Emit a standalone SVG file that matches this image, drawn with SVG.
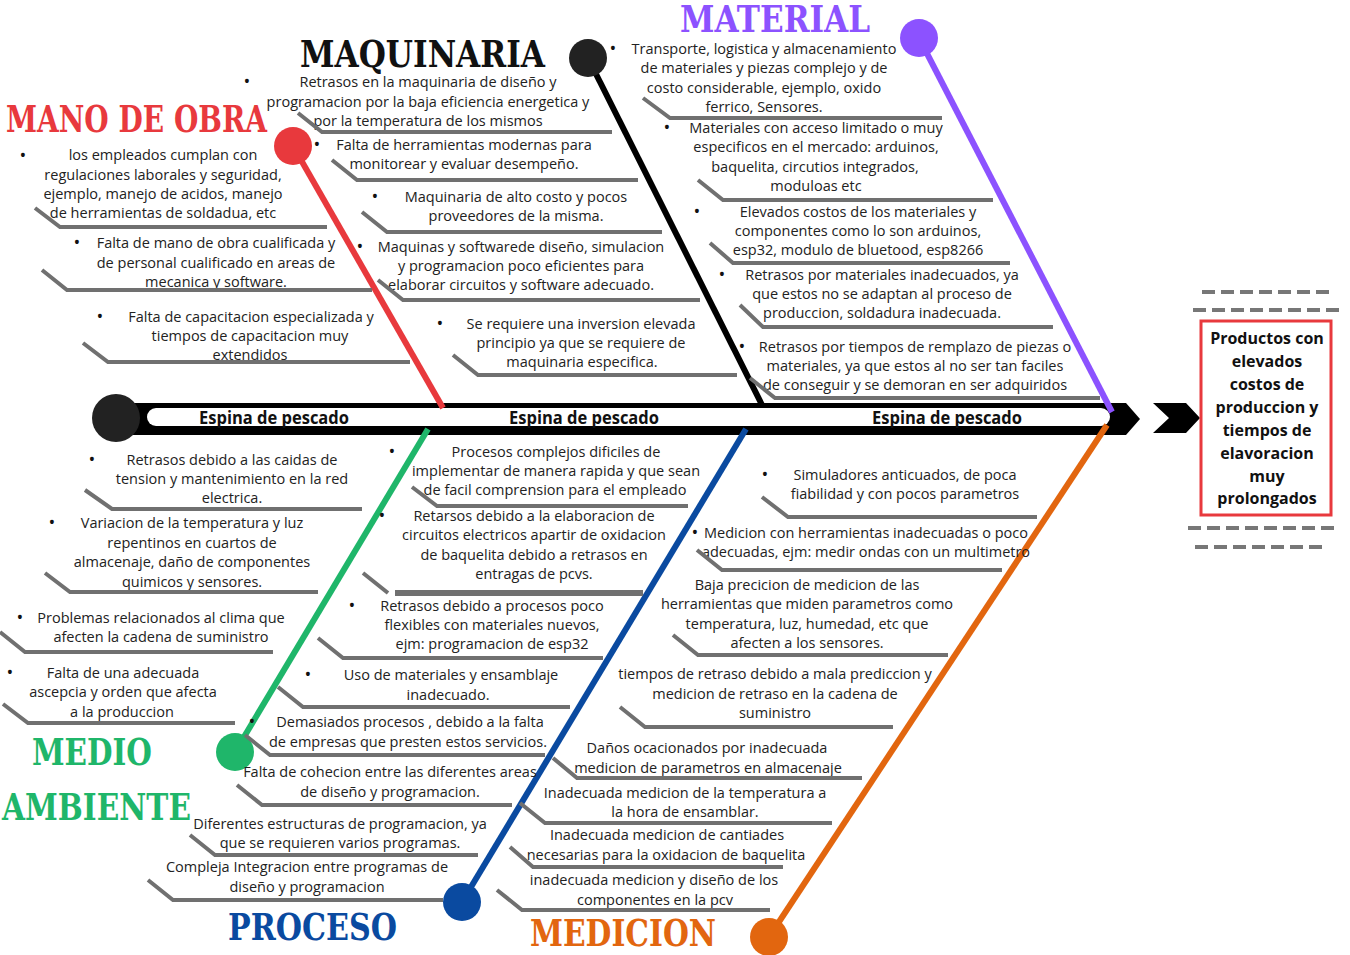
<svg xmlns="http://www.w3.org/2000/svg" width="1350" height="955" viewBox="0 0 1350 955">
  <style>
    .t { font-family: "Open Sans", "Liberation Sans", sans-serif; font-size: 14.5px; fill: #222; text-anchor: middle; }
    .b { font-family: "Open Sans", "Liberation Sans", sans-serif; font-size: 18px; fill: #111; text-anchor: middle; }
    .h { font-family: "DejaVu Serif", "Liberation Serif", serif; font-weight: bold; font-size: 38px; }
    .u { fill: none; stroke: #707070; stroke-width: 4; stroke-linejoin: miter; }
    .sl { font-family: "Open Sans", "Liberation Sans", sans-serif; font-weight: bold; font-size: 17px; fill: #111; }
    .res { font-family: "Open Sans", "Liberation Sans", sans-serif; font-weight: bold; font-size: 16px; fill: #111; text-anchor: middle; }
    .dash { stroke: #777; stroke-width: 4; stroke-dasharray: 13 6; fill: none; }
    .bone { fill: none; stroke-width: 6; stroke-linecap: butt; }
  </style>
  <rect width="1350" height="955" fill="#fff"/>

  <!-- fish spine -->
  <g id="spine">
    <path d="M115,403 H1126 L1140,419 L1126,435 H115 Z" fill="#000"/>
    <circle cx="116" cy="418" r="24" fill="#222"/>
    <rect x="147" y="408" width="963" height="18" rx="9" fill="#fff"/>
    <text class="sl" x="199" y="424" textLength="150" lengthAdjust="spacingAndGlyphs">Espina de pescado</text>
    <text class="sl" x="509" y="424" textLength="150" lengthAdjust="spacingAndGlyphs">Espina de pescado</text>
    <text class="sl" x="872" y="424" textLength="150" lengthAdjust="spacingAndGlyphs">Espina de pescado</text>
  </g>

  <!-- bones -->
  <g id="connectors">
    <line class="bone" x1="293" y1="146" x2="443" y2="408" stroke="#e8393d"/>
    <line class="bone" x1="588" y1="58" x2="762" y2="405" stroke="#000"/>
    <line class="bone" x1="919" y1="38" x2="1112" y2="412" stroke="#8c52ff"/>
    <line class="bone" x1="428" y1="429" x2="235" y2="752" stroke="#1fb66a"/>
    <line class="bone" x1="746" y1="429" x2="462" y2="902" stroke="#0a4aa0"/>
    <line class="bone" x1="1107" y1="425" x2="769" y2="937" stroke="#e2660f"/>
    <path d="M1153,403 H1186 L1200,418 L1186,433 H1153 L1169,418 Z" fill="#000"/>
  </g>

  <!-- MANO DE OBRA -->
  <g id="mano-de-obra">
    <circle cx="293" cy="146" r="19" fill="#e8393d"/>
    <text class="h" x="6" y="132" fill="#e8393d" textLength="261" lengthAdjust="spacingAndGlyphs">MANO DE OBRA</text>
    <text class="b" x="23" y="162">•</text>
    <text class="t" x="163" y="160">los empleados cumplan con</text>
    <text class="t" x="163" y="180">regulaciones laborales y seguridad,</text>
    <text class="t" x="163" y="199">ejemplo, manejo de acidos, manejo</text>
    <text class="t" x="163" y="218">de herramientas de soldadua, etc</text>
    <path class="u" d="M35,208 L60,227 H327"/>
    <text class="b" x="77" y="249">•</text>
    <text class="t" x="216" y="248">Falta de mano de obra cualificada y</text>
    <text class="t" x="216" y="268">de personal cualificado en areas de</text>
    <text class="t" x="216" y="287">mecanica y software.</text>
    <path class="u" d="M42,270 L67,290 H372"/>
    <text class="b" x="100" y="323">•</text>
    <text class="t" x="251" y="322">Falta de capacitacion especializada y</text>
    <text class="t" x="250" y="341">tiempos de capacitacion muy</text>
    <text class="t" x="250" y="360">extendidos</text>
    <path class="u" d="M83,343 L108,362 H410"/>
  </g>

  <!-- MAQUINARIA -->
  <g id="maquinaria">
    <circle cx="588" cy="58" r="19" fill="#222"/>
    <text class="h" x="300" y="67" fill="#111" textLength="245" lengthAdjust="spacingAndGlyphs">MAQUINARIA</text>
    <text class="b" x="247" y="88">•</text>
    <text class="t" x="428" y="87">Retrasos en la maquinaria de diseño y</text>
    <text class="t" x="428" y="107">programacion por la baja eficiencia energetica y</text>
    <text class="t" x="428" y="126">por la temperatura de los mismos</text>
    <path class="u" d="M298,113 L322,132 H612"/>
    <text class="b" x="317" y="151">•</text>
    <text class="t" x="464" y="150">Falta de herramientas modernas para</text>
    <text class="t" x="464" y="169">monitorear y evaluar desempeño.</text>
    <path class="u" d="M332,160 L357,180 H638"/>
    <text class="b" x="375" y="203">•</text>
    <text class="t" x="516" y="202">Maquinaria de alto costo y pocos</text>
    <text class="t" x="516" y="221">proveedores de la misma.</text>
    <path class="u" d="M362,212 L387,232 H662"/>
    <text class="b" x="360" y="253">•</text>
    <text class="t" x="521" y="252">Maquinas y softwarede diseño, simulacion</text>
    <text class="t" x="521" y="271">y programacion poco eficientes para</text>
    <text class="t" x="521" y="290">elaborar circuitos y  software adecuado.</text>
    <path class="u" d="M378,280 L403,300 H700"/>
    <text class="b" x="440" y="330">•</text>
    <text class="t" x="581" y="329">Se requiere una inversion elevada</text>
    <text class="t" x="581" y="348">principio ya que se requiere de</text>
    <text class="t" x="582" y="367">maquinaria especifica.</text>
    <path class="u" d="M453,355 L478,375 H737"/>
  </g>

  <!-- MATERIAL -->
  <g id="material">
    <circle cx="919" cy="38" r="19" fill="#8c52ff"/>
    <text class="h" x="680" y="32" fill="#8c52ff" font-size="37" textLength="190" lengthAdjust="spacingAndGlyphs">MATERIAL</text>
    <text class="b" x="613" y="55">•</text>
    <text class="t" x="764" y="54">Transporte, logistica y almacenamiento</text>
    <text class="t" x="764" y="73">de materiales y piezas complejo y de</text>
    <text class="t" x="764" y="93">costo considerable, ejemplo, oxido</text>
    <text class="t" x="764" y="112">ferrico, Sensores.</text>
    <path class="u" d="M643,98 L670,118 H942"/>
    <text class="b" x="667" y="134">•</text>
    <text class="t" x="816" y="133">Materiales con acceso limitado o muy</text>
    <text class="t" x="816" y="152">especificos en el mercado: arduinos,</text>
    <text class="t" x="815" y="172">baquelita, circutios integrados,</text>
    <text class="t" x="816" y="191">moduloas etc</text>
    <path class="u" d="M698,180 L723,200 H993"/>
    <text class="b" x="697" y="218">•</text>
    <text class="t" x="858" y="217">Elevados costos de los materiales y</text>
    <text class="t" x="858" y="236">componentes como lo son arduinos,</text>
    <text class="t" x="858" y="255">esp32, modulo de bluetood, esp8266</text>
    <path class="u" d="M710,243 L733,263 H1010"/>
    <text class="b" x="722" y="281">•</text>
    <text class="t" x="882" y="280">Retrasos por materiales inadecuados, ya</text>
    <text class="t" x="882" y="299">que estos no se adaptan al proceso de</text>
    <text class="t" x="882" y="318">produccion, soldadura inadecuada.</text>
    <path class="u" d="M740,305 L763,327 H1053"/>
    <text class="b" x="742" y="353">•</text>
    <text class="t" x="915" y="352">Retrasos por tiempos de remplazo de piezas o</text>
    <text class="t" x="915" y="371">materiales, ya que estos al no ser tan faciles</text>
    <text class="t" x="915" y="390">de conseguir y se demoran en ser adquiridos</text>
    <path class="u" d="M750,378 L775,398 H1100"/>
  </g>

  <!-- MEDIO AMBIENTE -->
  <g id="medio-ambiente">
    <circle cx="235" cy="752" r="19" fill="#1fb66a"/>
    <text class="h" x="32" y="765" fill="#1fb66a" textLength="120" lengthAdjust="spacingAndGlyphs">MEDIO</text>
    <text class="h" x="2" y="820" fill="#1fb66a" textLength="189" lengthAdjust="spacingAndGlyphs">AMBIENTE</text>
    <text class="b" x="92" y="466">•</text>
    <text class="t" x="232" y="465">Retrasos debido a las caidas de</text>
    <text class="t" x="232" y="484">tension y mantenimiento en la red</text>
    <text class="t" x="232" y="503">electrica.</text>
    <path class="u" d="M85,490 L112,509 H362"/>
    <text class="b" x="52" y="529">•</text>
    <text class="t" x="192" y="528">Variacion de la temperatura y luz</text>
    <text class="t" x="192" y="548">repentinos en cuartos de</text>
    <text class="t" x="192" y="567">almacenaje, daño de componentes</text>
    <text class="t" x="192" y="587">quimicos y sensores.</text>
    <path class="u" d="M45,573 L70,592 H318"/>
    <text class="b" x="20" y="624">•</text>
    <text class="t" x="161" y="623">Problemas relacionados al clima que</text>
    <text class="t" x="161" y="642">afecten la cadena de suministro</text>
    <path class="u" d="M0,632 L25,652 H273"/>
    <text class="b" x="10" y="679">•</text>
    <text class="t" x="123" y="678">Falta de una adecuada</text>
    <text class="t" x="123" y="697">ascepcia y orden que afecta</text>
    <text class="t" x="122" y="717">a la produccion</text>
    <path class="u" d="M3,704 L28,723 H235"/>
  </g>

  <!-- PROCESO -->
  <g id="proceso">
    <circle cx="462" cy="902" r="19" fill="#0a4aa0"/>
    <text class="h" x="228" y="940" fill="#0a4aa0" textLength="169" lengthAdjust="spacingAndGlyphs">PROCESO</text>
    <text class="b" x="392" y="458">•</text>
    <text class="t" x="556" y="457">Procesos complejos dificiles de</text>
    <text class="t" x="556" y="476">implementar de manera rapida y que sean</text>
    <text class="t" x="555" y="495">de facil comprension para el empleado</text>
    <path class="u" d="M412,487 L437,506 H688"/>
    <text class="b" x="382" y="522">•</text>
    <text class="t" x="534" y="521">Retarsos debido a la elaboracion de</text>
    <text class="t" x="534" y="540">circuitos electricos apartir de oxidacion</text>
    <text class="t" x="534" y="560">de baquelita debido a retrasos en</text>
    <text class="t" x="534" y="579">entragas de pcvs.</text>
    <path class="u" d="M363,573 L388,593" />
    <path d="M395,593 H643" stroke="#707070" stroke-width="6"/>
    <text class="b" x="352" y="612">•</text>
    <text class="t" x="492" y="611">Retrasos debido a procesos poco</text>
    <text class="t" x="492" y="630">flexibles con materiales nuevos,</text>
    <text class="t" x="492" y="649">ejm: programacion de esp32</text>
    <path class="u" d="M318,638 L343,658 H603"/>
    <text class="b" x="308" y="681">•</text>
    <text class="t" x="451" y="680">Uso de materiales y  ensamblaje</text>
    <text class="t" x="448" y="700">inadecuado.</text>
    <path class="u" d="M278,687 L303,707 H570"/>
    <text class="b" x="252" y="728">•</text>
    <text class="t" x="410" y="727">Demasiados procesos , debido a la falta</text>
    <text class="t" x="408" y="747">de empresas que presten estos servicios.</text>
    <path class="u" d="M245,735 L270,755 H545"/>
    <text class="t" x="390" y="777">Falta de cohecion entre las diferentes areas</text>
    <text class="t" x="390" y="797">de diseño  y programacion.</text>
    <path class="u" d="M237,785 L262,805 H512"/>
    <text class="t" x="340" y="829">Diferentes estructuras de programacion, ya</text>
    <text class="t" x="340" y="848">que se requieren varios programas.</text>
    <path class="u" d="M190,835 L215,855 H478"/>
    <text class="t" x="307" y="872">Compleja Integracion entre programas de</text>
    <text class="t" x="307" y="892">diseño y programacion</text>
    <path class="u" d="M148,880 L173,900 H443"/>
  </g>

  <!-- MEDICION -->
  <g id="medicion">
    <circle cx="769" cy="937" r="19" fill="#e2660f"/>
    <text class="h" x="530" y="946" fill="#e2660f" textLength="186" lengthAdjust="spacingAndGlyphs">MEDICION</text>
    <text class="b" x="765" y="481">•</text>
    <text class="t" x="905" y="480">Simuladores anticuados, de poca</text>
    <text class="t" x="905" y="499">fiabilidad y con pocos parametros</text>
    <path class="u" d="M762,497 L788,517 H1037"/>
    <text class="b" x="695" y="539">•</text>
    <text class="t" x="866" y="538">Medicion con herramientas inadecuadas o poco</text>
    <text class="t" x="866" y="557">adecuadas, ejm: medir ondas con un multimetro</text>
    <path class="u" d="M697,550 L722,570 H1002"/>
    <text class="t" x="807" y="590">Baja precicion de medicion de las</text>
    <text class="t" x="807" y="609">herramientas que miden parametros como</text>
    <text class="t" x="807" y="629">temperatura, luz, humedad, etc que</text>
    <text class="t" x="807" y="648">afecten a los sensores.</text>
    <path class="u" d="M673,635 L698,655 H948"/>
    <text class="t" x="775" y="679">tiempos de retraso debido a mala prediccion y</text>
    <text class="t" x="775" y="699">medicion de retraso en la cadena de</text>
    <text class="t" x="775" y="718">suministro</text>
    <path class="u" d="M620,707 L645,727 H893"/>
    <text class="t" x="707" y="753">Daños ocacionados por inadecuada</text>
    <text class="t" x="708" y="773">medicion de parametros en almacenaje</text>
    <path class="u" d="M553,758 L577,778 H862"/>
    <text class="t" x="685" y="798">Inadecuada medicion de la temperatura a</text>
    <text class="t" x="685" y="817">la hora de ensamblar.</text>
    <path class="u" d="M520,803 L545,823 H832"/>
    <text class="t" x="667" y="840">Inadecuada medicion de cantiades</text>
    <text class="t" x="666" y="860">necesarias para la oxidacion de baquelita</text>
    <path class="u" d="M510,847 L533,867 H783"/>
    <text class="t" x="654" y="885">inadecuada medicion y diseño de los</text>
    <text class="t" x="655" y="905">componentes en la pcv</text>
    <path class="u" d="M497,890 L522,910 H770"/>
  </g>

  <!-- effect box -->
  <g id="efecto">
    <line class="dash" x1="1202" y1="292" x2="1332" y2="292"/>
    <line class="dash" x1="1193" y1="310" x2="1340" y2="310"/>
    <rect x="1201" y="321" width="130" height="194" fill="#fff" stroke="#e8393d" stroke-width="3"/>
    <text class="res" x="1267" y="344">Productos con</text>
    <text class="res" x="1267" y="367">elevados</text>
    <text class="res" x="1267" y="390">costos de</text>
    <text class="res" x="1267" y="413">produccion y</text>
    <text class="res" x="1267" y="436">tiempos de</text>
    <text class="res" x="1267" y="459">elavoracion</text>
    <text class="res" x="1267" y="482">muy</text>
    <text class="res" x="1267" y="504">prolongados</text>
    <line class="dash" x1="1188" y1="528" x2="1334" y2="528"/>
    <line class="dash" x1="1195" y1="547" x2="1324" y2="547"/>
  </g>
</svg>
